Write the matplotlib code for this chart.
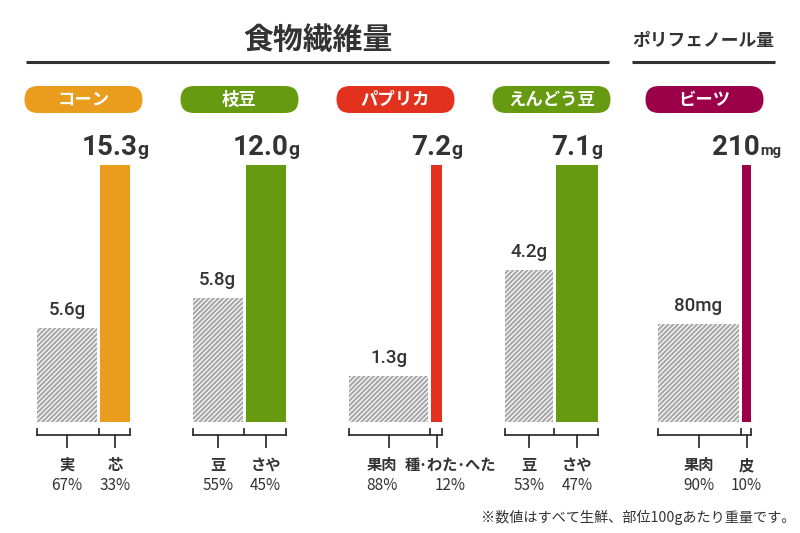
import matplotlib
matplotlib.use("Agg")
import matplotlib.pyplot as plt
from matplotlib.patches import FancyBboxPatch

# --- data ---
groups = ["コーン", "枝豆", "パプリカ", "えんどう豆", "ビーツ"]
edible_names = ["実", "豆", "果肉", "豆", "果肉"]
waste_names = ["芯", "さや", "種･わた･へた", "さや", "皮"]
edible_share = [67, 55, 88, 53, 90]
waste_share = [33, 45, 12, 47, 10]
edible_values = [5.6, 5.8, 1.3, 4.2, 80]
waste_values = [15.3, 12.0, 7.2, 7.1, 210]
units = ["g", "g", "g", "g", "mg"]

# --- style / layout (pixel units, y measured from top) ---
colors = ["#EA9C1C", "#669A10", "#E2311D", "#669A10", "#9C0049"]
group_left = [37, 193, 349, 505, 658]
group_width = 93
gap = 3
base_y = 422
full_h = 257
label_shift = [(0, 0), (0, 0), (-7, 14), (0, 0), (0, 0)]
DARK = "#333333"
JP = ["Noto Sans CJK JP", "DejaVu Sans"]
NUM = ["Roboto", "Noto Sans CJK JP"]

plt.rcParams["font.family"] = JP
plt.rcParams["hatch.linewidth"] = 0.85

W, H = 800, 533
fig = plt.figure(figsize=(8, 5.33), dpi=100)
ax = fig.add_axes([0, 0, 1, 1])
ax.set_xlim(0, W)
ax.set_ylim(0, H)
ax.axis("off")


def py(y):
    return H - y


# headings
ax.text(318, py(40), "食物繊維量", ha="center", va="center", fontsize=21.5,
        fontweight="bold", color=DARK)
ax.plot([26, 609], [py(62), py(62)], color=DARK, lw=2.2, solid_capstyle="butt")
ax.text(703, py(41), "ポリフェノール量", ha="center", va="center", fontsize=12.8,
        fontweight="bold", color=DARK)
ax.plot([632, 775], [py(62), py(62)], color=DARK, lw=2.2, solid_capstyle="butt")

renderer = fig.canvas.get_renderer()

for i, name in enumerate(groups):
    left = group_left[i]
    usable = group_width - gap
    w_e = usable * edible_share[i] / 100
    w_w = usable * waste_share[i] / 100
    x_e = left
    x_w = left + w_e + gap
    top = max(edible_values[i], waste_values[i])
    h_e = full_h * edible_values[i] / top
    h_w = full_h * waste_values[i] / top
    cx = left + group_width / 2

    # pill label
    pw, ph = 118, 27
    pill = FancyBboxPatch((cx - pw / 2, py(113)), pw, ph,
                          boxstyle=f"round,pad=0,rounding_size={ph/2}",
                          fc=colors[i], ec="none")
    ax.add_patch(pill)
    ax.text(cx, py(99.5), name, ha="center", va="center", fontsize=12.5,
            fontweight="bold", color="white")

    # bars
    ax.bar(x_e, h_e, width=w_e, bottom=py(base_y), align="edge",
           color="#A8A8A8", edgecolor="white", linewidth=0, hatch="///////")
    ax.bar(x_w, h_w, width=w_w, bottom=py(base_y), align="edge",
           color=colors[i], linewidth=0)

    # edible value label
    ax.text(x_e + w_e / 2, py(base_y - h_e) + 13, f"{edible_values[i]:g}{units[i]}",
            ha="center", va="baseline", fontsize=13.5, color=DARK,
            family=NUM, fontweight="medium")

    # waste value label (big number + small unit)
    num_txt = f"{waste_values[i]:.1f}" if units[i] == "g" else f"{waste_values[i]:g}"
    t_num = ax.text(0, py(base_y - h_w) + 10, num_txt, ha="left", va="baseline",
                    fontsize=20, fontweight="bold", color=DARK, family=NUM)
    u_size = 14 if units[i] == "g" else 10.5
    t_unit = ax.text(0, py(base_y - h_w) + 10, units[i], ha="left", va="baseline",
                     fontsize=u_size, fontweight="bold", color=DARK, family=NUM)
    wn = t_num.get_window_extent(renderer).width
    wu = t_unit.get_window_extent(renderer).width
    start = x_w + w_w / 2 - (wn + wu) / 2
    t_num.set_x(start)
    t_unit.set_x(start + wn)

    # bracket
    right = x_w + w_w
    split = x_e + w_e + gap / 2
    yb = py(435)
    ax.plot([left, right], [yb, yb], color=DARK, lw=1.3)
    for xx in (left, split, right):
        ax.plot([xx, xx], [yb, yb + 6], color=DARK, lw=1.3)
    ce = x_e + w_e / 2
    cw = x_w + w_w / 2
    for xx in (ce, cw):
        ax.plot([xx, xx], [yb, yb - 12], color=DARK, lw=1.3)

    # part labels
    se, sw = label_shift[i]
    ax.text(ce + se, py(465), edible_names[i], ha="center", va="center",
            fontsize=11, fontweight="bold", color=DARK)
    ax.text(ce + se, py(485), f"{edible_share[i]}%", ha="center", va="center",
            fontsize=11, color=DARK)
    ax.text(cw + sw, py(465), waste_names[i], ha="center", va="center",
            fontsize=11, fontweight="bold", color=DARK)
    ax.text(cw + sw, py(485), f"{waste_share[i]}%", ha="center", va="center",
            fontsize=11, color=DARK)

ax.text(795, py(517), "※数値はすべて生鮮、部位100gあたり重量です。", ha="right",
        va="center", fontsize=10.2, color=DARK)

fig.savefig("out.png", dpi=100)
